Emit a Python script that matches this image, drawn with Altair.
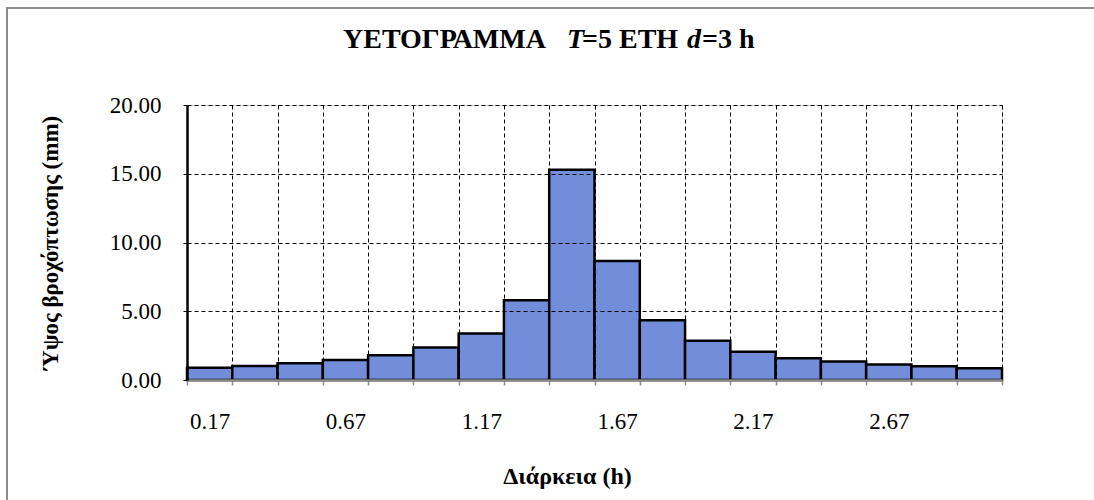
import altair as alt
import pandas as pd

times = ["0.17", "0.33", "0.50", "0.67", "0.83", "1.00", "1.17", "1.33", "1.50",
         "1.67", "1.83", "2.00", "2.17", "2.33", "2.50", "2.67", "2.83", "3.00"]
rain = [0.90, 1.02, 1.22, 1.46, 1.80, 2.37, 3.39, 5.80, 15.29,
        8.66, 4.34, 2.85, 2.05, 1.59, 1.34, 1.12, 1.00, 0.86]
y_ticks = [0, 5, 10, 15, 20]

n = len(times)
W, H = 815, 275
FONT = "Liberation Serif"

df = pd.DataFrame({
    "t": times,
    "v": rain,
    "x0": list(range(n)),
    "x1": list(range(1, n + 1)),
})

label_arr = "[" + ",".join("'" + t + "'" for t in times) + "]"
label_expr = f"(datum.value % 3 == 0 && datum.value < {n}) ? {label_arr}[datum.value] : ''"

x_scale = alt.Scale(domain=[0, n], nice=False, zero=False)
y_scale = alt.Scale(domain=[0, 20], nice=False)

bars = alt.Chart(df).mark_rect(
    fill="#728EDB", stroke="black", strokeWidth=2.5
).encode(
    x=alt.X("x0:Q", scale=x_scale, axis=alt.Axis(
        values=list(range(n + 1)), labelExpr=label_expr, labelOffset=W / n / 2,
        title="Διάρκεια (h)", titleX=380, titleY=96, titleBaseline="middle",
        titleFont=FONT, titleFontSize=24, titleFontWeight="bold", titleColor="black",
        labelFont=FONT, labelFontSize=23, labelColor="black", labelPadding=25,
        labelFlush=False, labelOverlap=False, labelBaseline="top",
        grid=True, gridColor="black", gridDash=[4, 3], gridWidth=1,
        domainColor="#8A8A8A", domainWidth=2.5, tickColor="#8A8A8A", tickSize=5, tickWidth=1.5,
        zindex=1,
    )),
    x2="x1:Q",
    y=alt.Y("v:Q", scale=y_scale, axis=alt.Axis(
        values=y_ticks, format=".2f",
        title="Ύψος  βροχόπτωσης (mm)", titleX=-137, titleY=H / 2, titleAngle=-90,
        titleBaseline="middle", titleAlign="center",
        titleFont=FONT, titleFontSize=23, titleFontWeight="bold", titleColor="black",
        labelFont=FONT, labelFontSize=23, labelColor="black", labelPadding=22,
        grid=True, gridColor="black", gridDash=[4, 3], gridWidth=1,
        domainColor="black", domainWidth=2.5, tickColor="black", tickSize=4,
        zindex=1,
    )),
    y2=alt.datum(0),
)

title_parts = pd.DataFrame({
    "txt": ["ΥΕΤΟΓΡΑΜΜΑ", "T", "=5 ΕΤΗ", "d", "=3 h"],
    "px": [156, 380, 395, 500, 515],
    "style": ["normal", "italic", "normal", "italic", "normal"],
})

def part(i):
    row = title_parts.iloc[i]
    return alt.Chart(title_parts.iloc[[i]]).mark_text(
        font=FONT, fontSize=28, fontWeight="bold", fontStyle=row["style"],
        align="left", baseline="alphabetic", color="black",
    ).encode(text="txt:N", x=alt.value(int(row["px"])), y=alt.value(-57))

title_layers = [part(i) for i in range(len(title_parts))]

frame = alt.Chart(pd.DataFrame({"a": [0]})).mark_rect(
    fill=None, stroke="#8C8C8C", strokeWidth=2
).encode(x=alt.value(-180), x2=alt.value(920), y=alt.value(-97), y2=alt.value(420))

chart = alt.layer(frame, bars, *title_layers).properties(
    width=W, height=H,
    autosize=alt.AutoSizeParams(type="none"),
    padding={"left": 187, "top": 105, "right": 92, "bottom": 120},
).configure_view(stroke=None).configure(background="white")

chart.save("out.html", embed_options={"renderer": "svg", "actions": False})
